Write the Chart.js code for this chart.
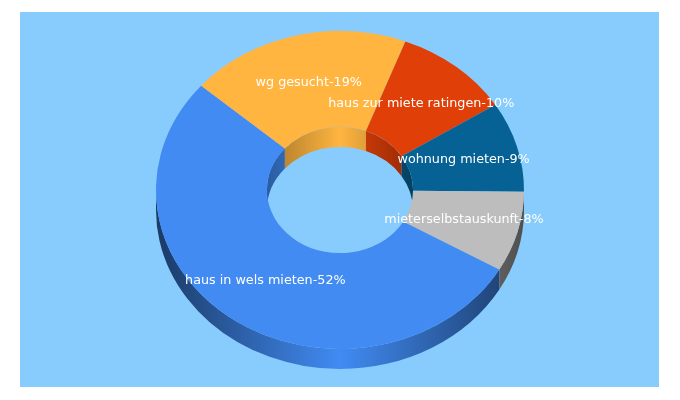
<!DOCTYPE html>
<html>
<head>
<meta charset="utf-8">
<style>
  html, body { margin: 0; padding: 0; background: #fff; }
  canvas { display: block; }
</style>
<script src="https://cdn.jsdelivr.net/npm/chart.js@4/dist/chart.umd.js"></script>
</head>
<body>
<canvas id="donut" width="680" height="400"></canvas>
<script>
const categories = ["haus in wels mieten", "wg gesucht", "haus zur miete ratingen", "wohnung mieten", "mieterselbstauskunft"];
const shares = [52, 19, 10, 9, 8];
const sliceColors = ["#418bf3", "#ffb540", "#e04008", "#066295", "#bebdbd"];

const skyColor = "#87ccfc";
const flatten = 0.864;
const depth = 20;
const PI2 = Math.PI * 2;

function shade(hex, f) {
    const n = parseInt(hex.slice(1), 16);
    return "rgb(" + Math.round((n >> 16) * f) + "," + Math.round(((n >> 8) & 255) * f) + "," + Math.round((n & 255) * f) + ")";
}

// walls of the ring, angles come from the arc elements
function drawWall(ctx, arc, radius, from, to, edge) {
    const ry = radius * flatten;
    [0, PI2].forEach(function (turn) {
        const a = Math.max(arc.startAngle, from + turn);
        const b = Math.min(arc.endAngle, to + turn);
        if (b <= a) return;
        const color = arc.options.backgroundColor;
        const grad = ctx.createLinearGradient(arc.x - radius, 0, arc.x + radius, 0);
        grad.addColorStop(0, shade(color, edge));
        grad.addColorStop(0.5, color);
        grad.addColorStop(1, shade(color, edge));
        ctx.beginPath();
        ctx.ellipse(arc.x, arc.y, radius, ry, 0, a, b);
        ctx.ellipse(arc.x, arc.y + depth, radius, ry, 0, b, a, true);
        ctx.closePath();
        ctx.fillStyle = grad;
        ctx.fill();
    });
}

const panel = {
    id: "panel",
    beforeDraw(chart) {
        chart.ctx.fillStyle = skyColor;
        chart.ctx.fillRect(20, 12, 639, 375);
    }
};

const ring3d = {
    id: "ring3d",
    beforeDatasetsDraw(chart) {
        const ctx = chart.ctx;
        const arcs = chart.getDatasetMeta(0).data;
        const cx = arcs[0].x, cy = arcs[0].y;
        arcs.forEach(function (arc) {
            drawWall(ctx, arc, arc.outerRadius, 0, Math.PI, 0.42);
            drawWall(ctx, arc, arc.innerRadius, Math.PI, PI2, 0.66);
        });
        // the top face is the library's own doughnut, squashed
        ctx.save();
        ctx.translate(cx, cy);
        ctx.scale(1, flatten);
        ctx.translate(-cx, -cy);
    },
    afterDatasetsDraw(chart) {
        const ctx = chart.ctx;
        ctx.restore();
        ctx.save();
        ctx.font = "12.75px 'DejaVu Sans'";
        ctx.fillStyle = "#ffffff";
        ctx.textAlign = "center";
        ctx.textBaseline = "middle";
        chart.getDatasetMeta(0).data.forEach(function (arc, i) {
            const mid = (arc.startAngle + arc.endAngle) / 2;
            const r = (arc.innerRadius + arc.outerRadius) / 2;
            const x = arc.x + r * Math.cos(mid);
            const y = arc.y + r * Math.sin(mid) * flatten;
            ctx.fillText(categories[i] + "-" + shares[i] + "%", x, y);
        });
        ctx.restore();
    }
};

new Chart(document.getElementById("donut"), {
    type: "doughnut",
    data: {
        labels: categories,
        datasets: [{
            data: shares,
            backgroundColor: sliceColors,
            borderWidth: 0,
            radius: 184
        }]
    },
    options: {
        responsive: false,
        animation: false,
        rotation: 120,
        cutout: "39.7%",
        radius: 184,
        layout: { padding: { bottom: 20 } },
        plugins: {
            legend: { display: false },
            tooltip: { enabled: false }
        }
    },
    plugins: [panel, ring3d]
});
</script>
</body>
</html>
